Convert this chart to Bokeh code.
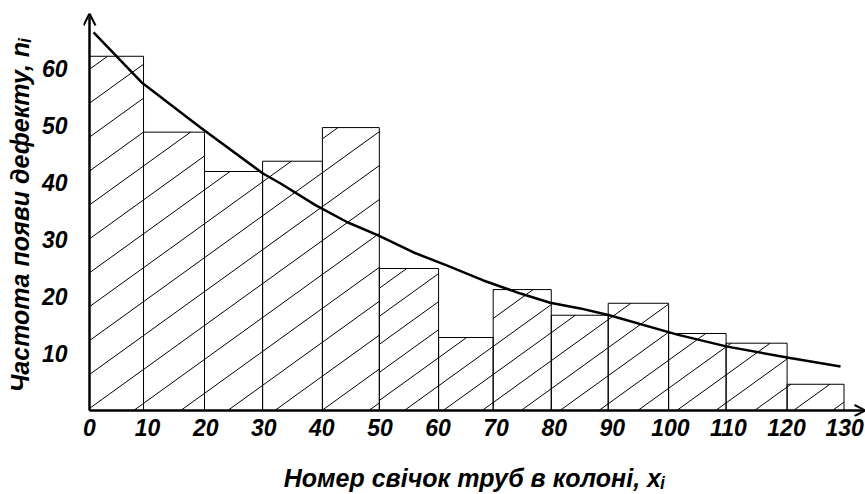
import numpy as np
from bokeh.plotting import figure
from bokeh.models import Arrow, OpenHead, FixedTicker, Range1d
from bokeh.embed import file_html
from bokeh.resources import INLINE

# ---- data ----
bin_edges = [0, 9.3, 19.8, 29.8, 40.1, 49.9, 60.1, 69.5, 79.5, 89.3, 99.7, 109.6, 120.1, 129.9]
frequencies = [62.1, 48.8, 41.9, 43.7, 49.6, 24.9, 12.8, 21.2, 16.7, 18.8, 13.5, 11.8, 4.6]

curve_x = [0.7, 9.1, 19.1, 29.8, 32.9, 38.9, 44.4, 49.7, 55.8, 61.6, 67.8, 74.2,
           79.3, 84.5, 89.5, 101.2, 109.8, 120.1, 129.3]
curve_y = [66.3, 57.4, 49.6, 41.6, 39.8, 36.0, 33.0, 30.7, 27.7, 25.4, 22.8, 20.5,
           18.9, 17.9, 16.7, 13.3, 11.2, 9.3, 7.7]

x_ticks = [0, 10, 20, 30, 40, 50, 60, 70, 80, 90, 100, 110, 120, 130]
y_ticks = [10, 20, 30, 40, 50, 60]

x_label = "Номер свічок труб в колоні, xᵢ"
y_label = "Частота появи дефекту, nᵢ"

X_END, Y_END = 133.6, 69.6

FONT = "Liberation Sans"

# layout: axis origin at pixel (89, 410), frame extends a few px beyond it
W, H = 865, 494
ORIGIN_X, ORIGIN_Y, TOP = 89, 410, 13
PAD = 6
sx = (W - ORIGIN_X) / X_END
sy = (ORIGIN_Y - TOP) / Y_END

p = figure(width=W, height=H, output_backend="svg", toolbar_location=None,
           x_range=Range1d(-PAD / sx, X_END), y_range=Range1d(-PAD / sy, Y_END),
           min_border_left=ORIGIN_X - PAD, min_border_right=0, min_border_top=TOP,
           min_border_bottom=H - ORIGIN_Y - PAD)
p.outline_line_color = None
p.grid.grid_line_color = None
p.background_fill_color = "white"
p.border_fill_color = "white"

for ax in (p.xaxis[0], p.yaxis[0]):
    ax.axis_line_color = None
    ax.major_tick_line_color = None
    ax.minor_tick_line_color = None
    ax.major_label_text_font = FONT
    ax.major_label_text_font_style = "bold italic"
    ax.major_label_text_font_size = "23px"
    ax.major_label_text_color = "black"
    ax.axis_label_text_font = FONT
    ax.axis_label_text_font_style = "bold italic"
    ax.axis_label_text_font_size = "25px"
    ax.axis_label_text_color = "black"

p.xaxis.ticker = FixedTicker(ticks=x_ticks)
p.yaxis.ticker = FixedTicker(ticks=y_ticks)
p.xaxis.major_label_standoff = -4
p.yaxis.major_label_standoff = 10
p.xaxis.axis_label = x_label
p.yaxis.axis_label = y_label
p.xaxis.axis_label_standoff = 25
p.yaxis.axis_label_standoff = 5

# bars
p.quad(left=bin_edges[:-1], right=bin_edges[1:], bottom=0, top=frequencies,
       fill_color=None, line_color="black", line_width=1)

# hatching computed from the bars
slope = 0.734
xs, ys = [], []
for i, h in enumerate(frequencies):
    x0, x1 = bin_edges[i], bin_edges[i + 1]
    if i < 5:
        gap, phase = 8.1, 7.6
    else:
        gap, phase = 6.7, 47.5
    kmin = int(np.floor((x0 - h / slope - phase) / gap)) - 1
    kmax = int(np.ceil((x1 - phase) / gap)) + 1
    for k in range(kmin, kmax + 1):
        c = phase + k * gap
        a = max(x0, c)
        b = min(x1, c + h / slope)
        if b - a > 0.05:
            xs.append([a, b])
            ys.append([slope * (a - c), slope * (b - c)])
p.multi_line(xs=xs, ys=ys, line_color="black", line_width=1)

# fitted curve
p.line(curve_x, curve_y, line_color="black", line_width=2.5, line_join="round")

# axes with arrows
p.add_layout(Arrow(end=OpenHead(size=12, line_width=2), x_start=0, y_start=0,
                   x_end=0, y_end=Y_END, line_width=2.5, line_color="black"))
p.add_layout(Arrow(end=OpenHead(size=11, line_width=2), x_start=0, y_start=0,
                   x_end=X_END, y_end=0, line_width=2.5, line_color="black"))

open("out.html", "w").write(file_html(p, INLINE))
